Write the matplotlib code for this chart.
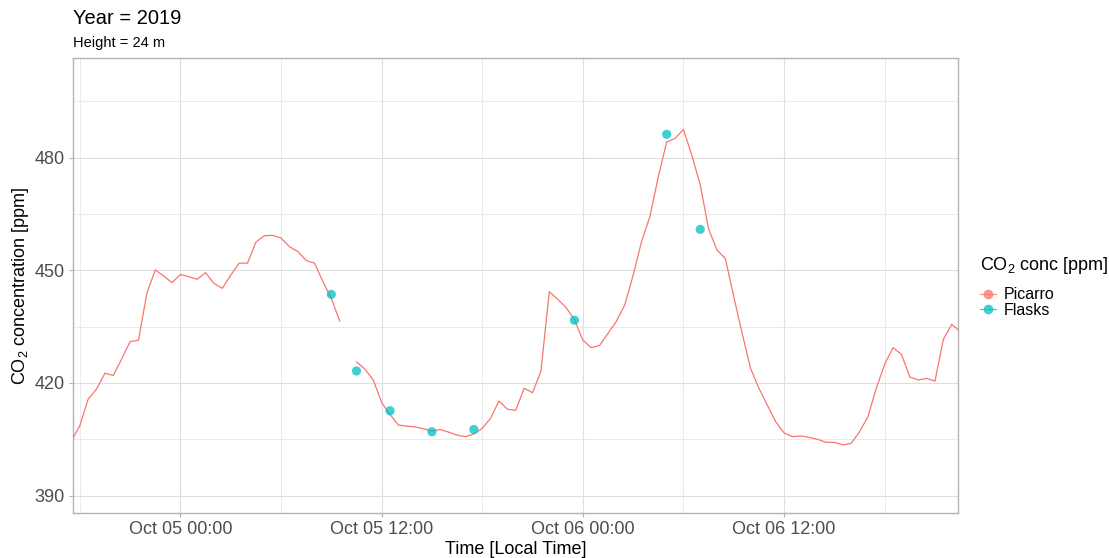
import numpy as np
import pandas as pd
import matplotlib
matplotlib.use('Agg')
import matplotlib.pyplot as plt
import matplotlib.dates as mdates
from matplotlib.lines import Line2D

plt.rcParams['font.family'] = ['Liberation Sans', 'DejaVu Sans']
plt.rcParams['mathtext.fontset'] = 'custom'
plt.rcParams['mathtext.rm'] = 'Liberation Sans'
plt.rcParams['mathtext.it'] = 'Liberation Sans:italic'

# Picarro, half-hourly from 2019-10-04 17:30 (NaN = gap)
picarro_start = '2019-10-04 17:30'
picarro_co2 = [
    404.6, 408.6, 415.7, 418.4, 422.6, 422.0, 426.4, 431.0, 431.4, 443.9,
    450.1, 448.5, 446.7, 448.9, 448.3, 447.6, 449.4, 446.5, 445.2, 448.7,
    451.9, 451.9, 457.5, 459.2, 459.3, 458.6, 456.3, 455.0, 452.6, 451.9,
    447.0, 442.5, 436.5, np.nan, 425.6, 423.7, 420.8, 414.8, 411.6, 408.8,
    408.5, 408.3, 407.8, 407.2, 407.6, 406.9, 406.1, 405.7, 406.4, 407.9,
    410.6, 415.2, 413.0, 412.7, 418.6, 417.4, 423.1, 444.3, 442.3, 440.1,
    436.8, 431.4, 429.4, 430.0, 433.2, 436.4, 440.8, 448.7, 457.6, 464.3,
    474.9, 484.2, 485.1, 487.5, 480.6, 472.8, 461.0, 455.4, 453.1, 443.0,
    433.2, 423.9, 418.6, 414.1, 409.7, 406.7, 405.7, 405.9, 405.5, 405.0,
    404.2, 404.2, 403.5, 403.9, 407.0, 411.0, 418.6, 425.0, 429.4, 427.6,
    421.6, 420.8, 421.2, 420.5, 431.6, 435.6, 433.7,
]

flask_times = ['2019-10-05 09:00', '2019-10-05 10:30', '2019-10-05 12:30',
               '2019-10-05 15:00', '2019-10-05 17:30', '2019-10-05 23:30',
               '2019-10-06 05:00', '2019-10-06 07:00']
flask_co2 = [443.6, 423.2, 412.6, 407.0, 407.6, 436.7, 486.2, 460.9]

picarro_times = pd.date_range(picarro_start, periods=len(picarro_co2), freq='30min')
flask_times = pd.to_datetime(flask_times)

c_pic = '#F8766D'
c_fl = '#00BFC4'

fig = plt.figure(figsize=(11.09, 5.58), dpi=100)
ax = fig.add_axes([0.0656, 0.0815, 0.7985, 0.8137])

ax.plot(picarro_times, picarro_co2, color=c_pic, lw=0.9, zorder=3)
ax.scatter(flask_times, flask_co2, s=44, color=c_fl, alpha=0.75,
           edgecolors='none', zorder=4)

t0 = pd.Timestamp('2019-10-05 00:00')
ax.set_xlim(t0 - pd.Timedelta(hours=6.42), t0 + pd.Timedelta(hours=46.39))
ax.set_ylim(385.5, 506.4)

ax.xaxis.set_major_locator(mdates.HourLocator(byhour=[0, 12]))
ax.xaxis.set_minor_locator(mdates.HourLocator(byhour=[6, 18]))
ax.xaxis.set_major_formatter(mdates.DateFormatter('%b %d %H:%M'))
ax.set_yticks([390, 420, 450, 480])
ax.set_yticks([405, 435, 465, 495], minor=True)

ax.grid(which='major', color='#DEDEDE', lw=0.8)
ax.grid(which='minor', color='#E6E6E6', lw=0.6)
ax.set_axisbelow(True)
for s in ax.spines.values():
    s.set_color('#B3B3B3')
    s.set_linewidth(1.0)
ax.tick_params(which='major', length=3, width=0.8, color='#B3B3B3',
               labelsize=13, labelcolor='#4D4D4D', pad=3)
ax.tick_params(which='minor', length=0)

ax.set_xlabel('Time [Local Time]', fontsize=13, labelpad=2)
ax.set_ylabel(r'CO$_\mathregular{2}$ concentration [ppm]', fontsize=13, labelpad=2)

fig.text(73 / 1109, 1 - 19 / 558, 'Year = 2019', fontsize=14.5, va='center')
fig.text(73 / 1109, 1 - 43 / 558, 'Height = 24 m', fontsize=10.5, va='center')

# legend
fig.text(980 / 1109, 1 - 265 / 558, r'CO$_\mathregular{2}$ conc [ppm]',
         fontsize=13, va='center')
handles = [
    Line2D([], [], color=c_pic, lw=0.9, marker='o', markersize=7,
           markerfacecolor=c_pic, markeredgecolor='none', alpha=0.75),
    Line2D([], [], color=c_fl, lw=0.9, marker='o', markersize=7,
           markerfacecolor=c_fl, markeredgecolor='none', alpha=0.75),
]
leg = fig.legend(handles, ['Picarro', 'Flasks'],
                 loc='upper left', bbox_to_anchor=(969 / 1109, 1 - 276 / 558),
                 frameon=False, fontsize=11.5, handlelength=1.0,
                 handletextpad=0.5, labelspacing=0.05, borderpad=0.2)

fig.savefig('out.png', dpi=100)
